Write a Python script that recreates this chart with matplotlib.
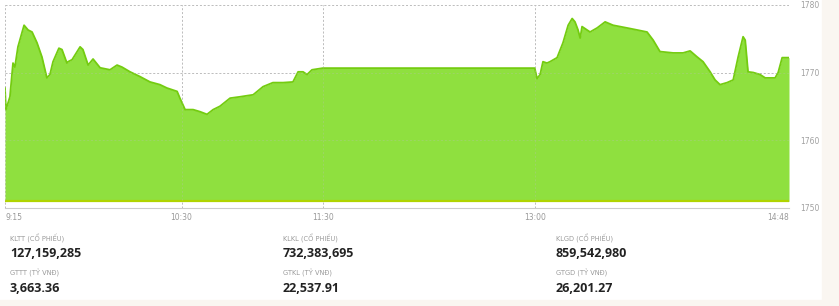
#!/usr/bin/env python
# -*- coding: utf-8 -*-

import numpy as np
import matplotlib.pyplot as plt
from matplotlib.patches import Rectangle

# minutes after 9:15 and index value
t_min = [0, 0.4, 2.1, 3.4, 4.2, 5.5, 8.1, 9.8, 11.5, 13.6, 15.7, 17.8, 19.1, 20.4,
         22.9, 24.2, 26.3, 26.8, 28.5, 31.9, 33.1, 35.3, 37.4, 40.4, 44.6, 47.6,
         49.7, 53.1, 57.3, 61.6, 65.8, 68.8, 73.1, 74.3, 76.5, 79.9, 82.8, 85.8,
         88.4, 91.3, 95.6, 99.8, 105.4, 109.6, 113.8, 118.1, 122.3, 124.5, 126.6,
         128.3, 130.4, 135, 225, 226.0, 227.3, 228.5, 230.2, 231.5, 234.5, 237.0,
         239.2, 240.9, 242.1, 243.4, 244.3, 245.1, 248.5, 251.5, 254.9, 258.3,
         264.2, 268.5, 272.7, 275.3, 278.2, 283.8, 288.0, 291.0, 294.0, 296.5,
         299.5, 301.6, 303.7, 306.7, 309.3, 311.4, 313.5, 314.4, 315.6, 317.8,
         320.7, 322.9, 327.1, 328.4, 330.1, 333]
price = [1767.7, 1764.5, 1766.4, 1771.4, 1770.8, 1773.8, 1777.0, 1776.3, 1776.0,
         1774.4, 1772.3, 1769.2, 1769.7, 1771.6, 1773.6, 1773.4, 1771.4, 1771.6,
         1771.9, 1773.8, 1773.4, 1771.1, 1772.0, 1770.7, 1770.4, 1771.1, 1770.8,
         1770.1, 1769.4, 1768.6, 1768.2, 1767.7, 1767.2, 1766.2, 1764.5, 1764.5,
         1764.2, 1763.8, 1764.5, 1765.0, 1766.2, 1766.4, 1766.7, 1767.9, 1768.5,
         1768.5, 1768.6, 1770.1, 1770.1, 1769.7, 1770.4, 1770.65, 1770.65, 1769.1,
         1769.7, 1771.6, 1771.4, 1771.6, 1772.2, 1774.4, 1777.0, 1778.0, 1777.5,
         1776.3, 1775.1, 1776.8, 1776.0, 1776.6, 1777.5, 1777.0, 1776.6, 1776.3,
         1776.0, 1774.8, 1773.1, 1772.9, 1772.9, 1773.2, 1772.3, 1771.6, 1770.1,
         1768.9, 1768.2, 1768.5, 1768.9, 1772.3, 1775.3, 1774.8, 1770.1, 1770.0,
         1769.7, 1769.2, 1769.2, 1770.0, 1772.2, 1772.2]

tick_min = [0, 75, 135, 225, 333]
tick_lbl = ['9:15', '10:30', '11:30', '13:00', '14:48']
y_ticks = [1750, 1760, 1770, 1780]

stat_cols = [
    ('KLTT (CỔ PHIẾU)', '127,159,285', 'GTTT (TỶ VNĐ)', '3,663.36'),
    ('KLKL (CỔ PHIẾU)', '732,383,695', 'GTKL (TỶ VNĐ)', '22,537.91'),
    ('KLGD (CỔ PHIẾU)', '859,542,980', 'GTGD (TỶ VNĐ)', '26,201.27'),
]

W, H = 839, 306
fig = plt.figure(figsize=(W / 100, H / 100), dpi=100)
fig.patch.set_facecolor('white')
fig.patches.append(Rectangle((822 / W, 0), 1, 1, transform=fig.transFigure,
                             color='#faf6f1', zorder=0))
fig.patches.append(Rectangle((0, 0), 1, 6 / H, transform=fig.transFigure,
                             color='#faf6f1', zorder=0))

ax = fig.add_axes([5 / W, (H - 207.5) / H, 784 / W, 202.5 / H])
ax.set_xlim(0, 333)
ax.set_ylim(1750, 1780)

base = 1750.9
ax.fill_between(t_min, base, price, color='#8fe03f', lw=0, zorder=2)
ax.plot(t_min, price, color='#74cc10', lw=1.3, zorder=3)
ax.axhline(base, color='#b0d400', lw=1.6, zorder=4)

# grid: plain on white, faint where it crosses the area
for y in [1760, 1770, 1780]:
    ax.axhline(y, color='#bdbdbd', lw=0.7, ls=(0, (2, 2)), zorder=1)
    ax.axhline(y, color='#bdbdbd', lw=0.7, ls=(0, (2, 2)), alpha=0.3, zorder=5)
for x in tick_min:
    ax.axvline(x, color='#bdbdbd', lw=0.7, ls=(0, (2, 2)), zorder=1)
    ax.axvline(x, color='#bdbdbd', lw=0.7, ls=(0, (2, 2)), alpha=0.3, zorder=5)

for s in ['top', 'left', 'right']:
    ax.spines[s].set_visible(False)
ax.spines['bottom'].set_color('#cccccc')
ax.spines['bottom'].set_linewidth(0.8)

ax.set_xticks(tick_min)
ax.set_xticklabels(tick_lbl)
ax.tick_params(axis='x', length=0, pad=4, labelsize=5.5, labelcolor='#999999')
labels = ax.get_xticklabels()
labels[0].set_ha('left')
labels[-1].set_ha('right')

ax.yaxis.tick_right()
ax.set_yticks(y_ticks)
ax.tick_params(axis='y', length=0, pad=8, labelsize=5.5, labelcolor='#a0a0a0')

col_x = [10, 283, 556]
for x0, (l1, v1, l2, v2) in zip(col_x, stat_cols):
    fig.text(x0 / W, 1 - 238 / H, l1, fontsize=4.8, color='#9a9a9a', va='center')
    fig.text(x0 / W, 1 - 253.5 / H, v1, fontsize=9, fontweight='bold',
             family='Open Sans', color='#222222', va='center')
    fig.text(x0 / W, 1 - 273 / H, l2, fontsize=4.8, color='#9a9a9a', va='center')
    fig.text(x0 / W, 1 - 289 / H, v2, fontsize=9, fontweight='bold',
             family='Open Sans', color='#222222', va='center')

fig.savefig('out.png', dpi=100)
